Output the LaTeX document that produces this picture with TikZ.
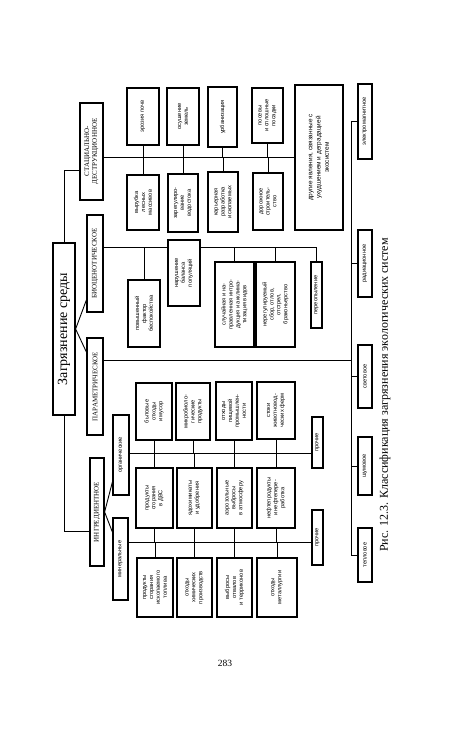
\documentclass[tikz,border=0pt]{standalone}
\usepackage{fontspec}
\setmainfont{Liberation Serif}
\newfontfamily\boxfont{Liberation Sans}
\newcommand{\VB}[7][]{\node[bx,minimum width={#6-#4},minimum height={#5-#3},#1] (#2) at ({(#3+#5)/2},{(#4+#6)/2}) {#7};}
\begin{document}
\begin{tikzpicture}[x=1pt,y=-1pt,line join=miter]
\tikzset{
 bx/.style={draw, line width=1.2pt, rotate=90, inner sep=0.5pt, align=center, font=\boxfont\fontsize{5.7}{6.9}\selectfont},
 ttl/.style={font=\fontsize{7}{7.8}\selectfont},
 ln/.style={line width=0.9pt},
}
\useasboundingbox (0,0) rectangle (450,731);
\fill[white] (0,0) rectangle (450,731);
% level coordinates
\coordinate (Ls) at (0,157);
\coordinate (Lb) at (0,247);
\coordinate (Lp) at (0,360);
\coordinate (Lo) at (0,453);
\coordinate (Lm) at (0,542);
\coordinate (Bx) at (351,0);
\coordinate (Lst) at (0,170);
\coordinate (Li) at (0,531);
\coordinate (Fb) at (0,300);
\coordinate (Fp) at (0,352);
\coordinate (Fo) at (0,482);
\coordinate (Fm) at (0,532);
% left column
\VB[font=\fontsize{14}{16}\selectfont]{main}{53}{243}{75}{415}{Загрязнение среды}
\VB[ttl]{stat}{80}{103}{103}{200}{СТАЦИАЛЬНО-\\ДЕСТРУКЦИОННОЕ}
\VB[ttl]{bio}{87}{215}{103}{312}{БИОЦЕНОТИЧЕСКОЕ}
\VB[ttl]{par}{87}{338}{103}{435}{ПАРАМЕТРИЧЕСКОЕ}
\VB[ttl]{ing}{90}{458}{104}{566}{ИНГРЕДИЕНТНОЕ}
\VB{org}{113}{415}{129}{495}{органические}
\VB{min}{113}{518}{128}{600}{минеральные}
% stational
\VB{s1}{127}{88}{159}{145}{эрозия почв}
\VB{s2}{167}{88}{199}{145}{осушение\\земель}
\VB{s3}{208}{87}{237}{147}{урбанизация}
\VB{s4}{252}{88}{283}{143}{посевы\\и сплошные\\посадки}
\VB{s5}{127}{175}{159}{230}{вырубка\\лесных\\массивов}
\VB{s6}{168}{174}{198}{232}{зарегулиро-\\вание\\водостока}
\VB{s7}{208}{172}{238}{232}{карьерная\\разработка\\ископаемых}
\VB{s8}{253}{173}{283}{230}{дорожное\\строитель-\\ство}
\VB[font=\boxfont\fontsize{6.4}{8.2}\selectfont]{E}{295}{85}{343}{230}{другие явления, связанные с\\ухудшением и деградацией\\экосистем}
% biocenotic
\VB{b1}{128}{280}{160}{347}{повышенный\\фактор\\беспокойства}
\VB{b2}{168}{240}{200}{306}{нарушение\\баланса\\популяций}
\VB{b3}{215}{262}{254}{347}{случайная и на-\\правленная интро-\\дукция и акклима-\\тизация видов}
\VB{b4}{256}{262}{295}{347}{нерегулируемый\\сбор, отлов,\\отстрел,\\браконьерство}
\VB{b5}{311}{262}{322}{328}{переопыление}
% organic
\VB{o1}{136}{383}{172}{440}{бытовые\\отходы\\и мусор}
\VB{o2}{176}{383}{210}{440}{микробиоло-\\гические\\продукты}
\VB{o3}{216}{382}{252}{440}{отходы\\пищевой\\промышлен-\\ности}
\VB{o4}{257}{382}{295}{439}{стоки\\животновод-\\ческих ферм}
\VB{m1}{136}{468}{173}{528}{продукты\\сгорания\\в ДВС}
\VB{m2}{177}{468}{212}{528}{ядохимикаты\\и удобрения}
\VB{m3}{217}{468}{252}{528}{аэрозольные\\выбросы\\в атмосферу}
\VB{m4}{257}{468}{295}{528}{нефтепродукты\\и нефтепере-\\работка}
\VB{n1}{137}{558}{173}{617}{продукты\\сгорания\\ископаемого\\топлива}
\VB{n2}{177}{558}{212}{617}{отходы\\химических\\производств}
\VB{n3}{217}{558}{252}{617}{выбросы\\отвалов\\и терриконов}
\VB{n4}{257}{558}{297}{617}{отходы\\металлургии}
\VB{op}{312}{417}{323}{468}{прочие}
\VB{np}{312}{510}{323}{565}{прочие}
% parametric
\VB{p1}{358}{84}{372}{159}{электромагнитное}
\VB{p2}{358}{230}{372}{297}{радиационное}
\VB{p3}{358}{345}{372}{408}{световое}
\VB{p4}{358}{437}{372}{495}{шумовое}
\VB{p5}{358}{528}{372}{582}{тепловое}
% connectors: main
\draw[ln] (main.east) -- (main.east |- Lst) -- (stat.north |- Lst);
\draw[ln] (main.west) -- (main.west |- Li) -- (ing.north |- Li);
\draw[ln] (bio.north |- Fb) -- (main.south) -- (par.north |- Fp);
\draw[ln] (org.north |- Fo) -- (ing.south) -- (min.north |- Fm);
% stational
\draw[ln] (stat.south |- Ls) -- (E.north |- Ls);
\foreach \n in {s1,s2,s3,s4} \draw[ln] (\n.west) -- (\n.west |- Ls);
\foreach \n in {s5,s6,s7,s8} \draw[ln] (\n.east) -- (\n.east |- Ls);
% biocenotic
\draw[ln] (bio.south |- Lb) -- (b2.north |- Lb);
\draw[ln] (b2.south |- Lb) -- (Lb -| b5) -- (b5.east);
\foreach \n in {b1,b3,b4} \draw[ln] (\n.east) -- (\n.east |- Lb);
% parametric
\draw[ln] (par.south |- Lp) -- (Bx |- Lp);
\draw[ln] (Bx |- p1) -- (Bx |- p5);
\foreach \n in {p1,p2,p3,p4,p5} \draw[ln] (Bx |- \n) -- (\n.north);
% organic and mineral
\draw[ln] (org.south |- Lo) -- (op.north |- Lo);
\draw[ln] (min.south |- Lm) -- (np.north |- Lm);
\foreach \n in {o1,o2,o3,o4} \draw[ln] (\n.west) -- (\n.west |- Lo);
\foreach \n in {m1,m2,m3,m4} {\draw[ln] (\n.east) -- (\n.east |- Lo); \draw[ln] (\n.west) -- (\n.west |- Lm);}
\foreach \n in {n1,n2,n3,n4} \draw[ln] (\n.east) -- (\n.east |- Lm);
% caption and page number
\node[rotate=90, font=\fontsize{12}{14}\selectfont] (cap) at (385,395) {Рис. 12.3. Классификация загрязнения экологических систем};
\node[font=\fontsize{9.5}{11}\selectfont] (pg) at (225,663) {283};
\end{tikzpicture}
\end{document}
